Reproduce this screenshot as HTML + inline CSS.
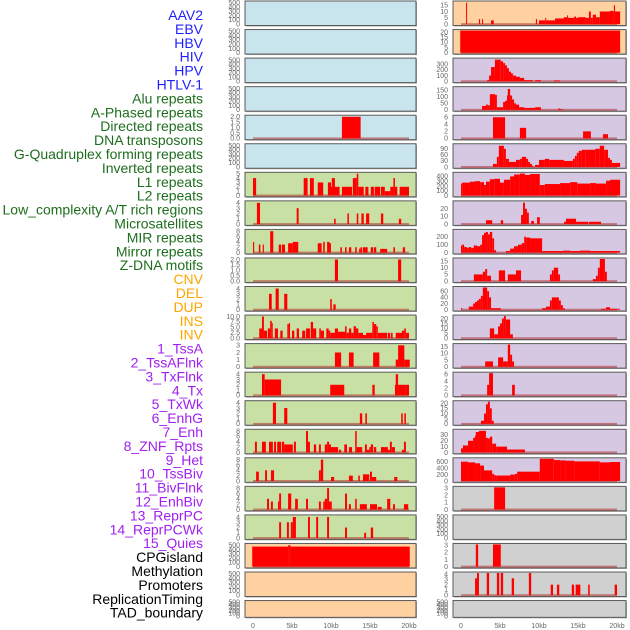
<!DOCTYPE html>
<html><head><meta charset="utf-8"><style>
body{margin:0;background:#fff}
svg{display:block;font-family:"Liberation Sans",sans-serif}
</style></head><body>
<svg id="chart" width="630" height="630" viewBox="0 0 630 630" xmlns="http://www.w3.org/2000/svg"></svg>
<script>
const labels=["AAV2","EBV","HBV","HIV","HPV","HTLV-1","Alu repeats","A-Phased repeats","Directed repeats","DNA transposons","G-Quadruplex forming repeats","Inverted repeats","L1 repeats","L2 repeats","Low_complexity A/T rich regions","Microsatellites","MIR repeats","Mirror repeats","Z-DNA motifs","CNV","DEL","DUP","INS","INV","1_TssA","2_TssAFlnk","3_TxFlnk","4_Tx","5_TxWk","6_EnhG","7_Enh","8_ZNF_Rpts","9_Het","10_TssBiv","11_BivFlnk","12_EnhBiv","13_ReprPC","14_ReprPCWk","15_Quies","CPGisland","Methylation","Promoters","ReplicationTiming","TAD_boundary"];
const labelGroups=[6,13,5,15,5];
const groupColors=["#1f1fff","#1e6e1e","#ffa500","#a020f0","#000000"];
const xTickLabels=["0","5kb","10kb","15kb","20kb"];
const xTickValues=[0,5,10,15,20];
const E=[0,100,200,300,400,500];
const leftColors=["b","b","b","b","b","b","g","g","g","g","g","g","g","g","g","g","g","g","g","o","o","o"];
const rightColors=["o","o","p","p","p","p","p","p","p","p","p","p","p","p","p","p","p","y","y","y","y","y"];
const leftTicks=[E,E,E,E,[0,0.5,1,1.5,2],E,[0,1,2,3,4,5],[0,1,2,3,4],[0,2,4,6,8],[0,0.5,1,1.5,2],[0,1,2,3,4],[0,2.5,5,7.5,10],[0,1,2,3],[0,1,2,3,4],[0,1,2,3,4],[0,2,4,6,8],[0,2,4,6,8],[0,2,4,6,8],[0,1,2,3,4],E,E,E];
const leftMax=[520,520,520,520,2.05,520,5.1,4.2,8.3,2.05,4.2,10.2,3.1,4.2,4.2,8.3,8.3,8.3,4.2,520,520,520];
const rightTicks=[[0,5,10,15],[0,5,10,15,20],[0,100,200,300],[0,50,100,150],[0,2,4,6],[0,30,60,90],[0,100,200,300,400],[0,10,20],[0,100,200],[0,5,10,15],[0,20,40,60],[0,5,10,15,20],[0,5,10,15],[0,2,4,6],[0,5,10,15,20],[0,10,20,30],[0,200,400,600],[0,1,2,3],E,[0,1,2,3],[0,1,2,3,4],E];
const rightMax=[17.5,21.5,390,170,6.3,110,465,29,280,16.5,72,22.5,16.5,6.3,21.5,38,690,3.1,520,3.1,4.2,520];
const leftSeries=[[],[],[],[],[[11.4,13.8,2]],[],
[[0,0.4,4],[6.5,7.0,4],[7.3,7.8,4],[8.3,9.0,3],[9.6,10.0,3],[10.0,11.1,2],[10.1,10.5,4],[11.4,12.7,2],[12.8,13.3,4],[13.3,13.5,5],[13.5,14.2,2],[14.4,14.8,2],[15.1,15.5,2],[15.6,16.3,2],[16.4,16.9,2],[16.9,17.6,1],[17.6,18.0,2],[18.0,18.2,4],[18.2,18.5,2],[18.8,20,2]],
[[0.5,0.9,4],[5.6,5.85,3],[10.4,10.6,1],[12.1,12.3,2],[13.3,13.5,2],[13.9,14.2,2],[14.5,14.9,2],[16.4,16.7,2],[18.7,19.0,1]],
[[0,0.15,4],[0.75,0.95,3],[1.25,1.4,3],[2.2,2.6,8],[3.3,3.6,3],[3.7,4.1,3],[4.5,5.1,3.5],[5.1,5.8,4],[8.3,8.8,3.5],[9.0,9.2,4],[9.5,9.8,4],[9.8,10,3.5],[11.2,11.4,2],[11.8,12.0,2],[12.3,12.6,2],[13.1,13.3,2],[13.6,13.8,1.5],[13.8,14.0,2],[14.1,14.7,2],[15.1,15.4,2],[15.5,15.8,2],[16.3,17.2,1.4],[18.0,18.2,2],[19.2,19.5,2]],
[[10.5,10.9,2],[18.6,19.0,2]],
[[2.05,2.4,3],[2.9,3.3,4],[4.0,4.4,3],[9.9,10.1,2],[10.3,10.6,1]],
[[0.8,1.15,4.5],[1.15,1.4,10],[1.4,1.8,3.5],[1.9,2.2,4.5],[2.2,2.4,8],[2.4,2.5,7],[2.8,3.2,4.5],[3.5,3.8,3.5],[4.4,4.6,6.5],[4.6,4.75,7],[5.0,5.3,3.5],[5.6,5.9,4.5],[6.3,6.7,3.5],[6.8,7.3,4.5],[7.4,7.7,7.5],[7.7,8.1,4.5],[8.5,8.7,4.5],[8.7,9.1,3.5],[9.4,9.7,4.5],[9.7,9.9,3.5],[9.9,10.5,2.5],[10.5,10.9,4.5],[10.9,11.8,3],[11.8,12.0,5.5],[12.0,12.3,2.5],[12.3,12.6,4.5],[12.6,12.9,2.5],[12.9,13.2,5.5],[13.2,13.5,4.5],[13.5,14.1,2.5],[14.1,14.5,1.5],[14.5,15.3,2.5],[15.3,15.5,7.5],[15.5,15.8,6.5],[15.8,16.0,5.5],[16.0,17.2,2.5],[17.3,17.6,2.5],[17.7,17.9,2.5],[18.3,19.1,2.5],[19.1,19.4,3.5],[19.4,19.6,4.5],[19.6,20,2.5]],
[[10.5,11.3,2],[12.3,12.9,2],[15.4,16.2,2],[18.3,18.6,1],[18.6,19.4,3],[19.4,20.1,1]],
[[1.15,1.5,4],[1.5,3.6,3],[9.9,11.7,2],[15.3,15.6,2],[18.2,18.6,2],[18.3,18.6,4],[18.6,19.6,2],[19.6,20,2]],
[[2.55,2.95,4],[4.0,4.4,3],[13.7,14.0,2],[14.4,14.6,2],[19.0,19.2,2],[19.4,19.6,2]],
[[0.25,0.5,4],[1.15,1.65,4],[2.05,2.55,4],[2.7,2.95,4],[3.1,3.6,4],[3.7,4.0,4],[4.0,5.1,3],[5.25,5.5,4],[6.8,7.05,8],[7.05,7.3,4],[7.8,8.1,3],[8.45,8.7,3],[9.2,9.5,3],[9.5,9.75,4],[9.75,10,3],[10,10.9,2],[11.0,11.3,1],[11.7,12.05,3],[12.3,12.7,2],[13.1,13.3,8],[13.3,14.0,2],[14.35,14.6,3],[14.6,14.9,1],[14.9,15.1,2],[15.1,15.4,3],[15.5,15.8,2],[16.4,17.3,2],[17.3,17.55,1],[17.55,17.8,4],[17.8,18.2,2],[19.1,19.35,1],[19.35,19.6,4]],
[[0.4,0.75,3.5],[1.55,1.8,4],[2.3,2.7,4],[8.45,8.7,4],[8.7,9.0,8],[10,10.4,1.5],[12.3,12.8,2],[13.5,13.7,2],[14.1,14.9,2.5],[15,15.25,3.5],[15.25,15.8,1.5],[18.1,18.5,1.5]],
[[1.8,2.05,4],[2.3,2.55,3],[3.2,3.35,3],[3.35,3.6,6],[4.5,4.9,6],[5.4,5.75,4],[6.8,7.05,4],[8.45,8.7,3],[9,9.2,3],[9.2,9.5,4],[9.5,9.75,8],[9.75,10.1,3],[11.8,12.05,6],[12.3,12.55,2],[13.1,13.3,4],[13.7,14.6,2],[15,15.9,2],[16,16.5,1],[17.2,17.6,4],[17.95,18.2,2],[19.35,19.9,2]],
[[3.35,3.6,3],[4.35,4.6,3],[4.85,5.1,3],[5.1,5.5,4],[7.05,7.3,4],[8.1,8.35,4],[9.5,9.75,4],[11.8,12.05,2],[14.25,14.5,1],[15.1,15.4,2]],
[[-0.1,4.5,470],[4.5,4.8,500],[4.8,20.1,470]],[],[]];
const rightSeries=[
[[0.65,0.75,17],[2.3,2.45,4],[2.7,2.8,4],[3.85,4.2,3],[9.6,9.75,4],[10,10.8,3],[10.8,10.9,5],[10.9,12.05,3],[12.05,13.2,4.5],[13.2,13.6,5.5],[13.6,13.7,7],[13.7,14.5,5],[14.5,14.75,6],[14.75,15,5],[15,16,5.5],[16,16.4,5],[16.4,16.65,10],[16.65,16.9,5],[16.9,17.3,7.5],[17.3,17.8,5.5],[17.8,19.1,10],[19.1,19.5,10.5],[19.5,19.6,10],[19.6,19.75,15],[19.75,20.4,10]],
[[-0.1,20.4,21.5]],
[[3.35,3.6,20],[3.6,3.85,100],[3.85,4.35,250],[4.35,5.1,380],[5.1,5.4,350],[5.4,5.65,320],[5.65,5.9,280],[5.9,6.15,230],[6.15,6.4,170],[6.4,6.65,140],[6.65,7.05,100],[7.05,7.55,80],[7.55,8.1,60],[8.1,9.2,20],[9.5,10.25,20],[11.9,12.7,15]],
[[2.7,3.2,30],[3.2,3.45,40],[3.45,3.7,35],[3.7,4.35,120],[4.35,4.6,115],[4.6,5.4,20],[5.4,5.65,60],[5.65,5.9,70],[5.9,6.0,110],[6.0,6.3,160],[6.3,6.55,110],[6.55,6.8,80],[6.8,7.05,50],[7.05,7.45,40],[7.45,8.1,20],[8.1,9.5,15],[9.5,10.25,20],[12.45,12.7,10],[12.7,13.1,5]],
[[4.1,5.65,6],[7.55,8.35,3],[15.65,16.65,2],[18.2,18.85,1.2]],
[[4.1,4.6,15],[4.6,4.85,50],[4.85,5.5,105],[5.5,5.75,90],[5.75,6.15,40],[6.15,7.05,25],[7.05,7.55,35],[7.55,7.8,40],[7.8,8.35,50],[8.35,8.6,40],[8.6,8.85,25],[8.85,9.1,15],[9.1,9.25,5],[9.5,10,10],[10,10.75,35],[10.75,11.3,40],[11.3,13.2,35],[13.2,14.35,30],[14.35,14.6,40],[14.6,14.85,55],[14.85,15.1,70],[15.1,15.5,80],[15.5,16,85],[16,17.2,85],[17.2,17.8,90],[17.8,18.35,105],[18.35,18.85,85],[18.85,19.1,45],[19.1,19.35,35],[19.35,20.4,20]],
[[0,0.15,250],[0.15,1.15,270],[1.15,1.8,290],[1.8,2.45,300],[2.45,2.95,280],[2.95,3.2,220],[3.2,3.7,290],[3.7,4.25,340],[4.25,5.0,350],[5,5.5,270],[5.5,6.3,330],[6.3,6.8,400],[6.8,7.55,440],[7.55,8.2,460],[8.2,8.85,430],[8.85,10.1,450],[10.1,10.75,220],[10.75,12.7,240],[12.7,14,260],[14,14.9,280],[14.9,16.55,250],[16.55,17.3,260],[17.3,18.6,250],[18.6,19.1,310],[19.1,20.4,330]],
[[3.2,4.0,5],[5.1,5.4,5],[7.7,7.95,12],[7.95,8.2,28],[8.2,8.45,20],[8.45,8.7,15],[9,9.35,4],[9.75,10.1,9],[13.2,13.45,3],[13.45,14.75,7],[14.75,16.3,3],[16.4,17.95,3]],
[[0,0.15,90],[0.15,0.4,100],[0.4,0.75,70],[0.75,1.0,60],[1.0,1.3,70],[1.3,1.65,60],[1.65,2.05,90],[2.05,2.45,80],[2.45,2.7,100],[2.7,2.95,220],[2.95,3.2,250],[3.2,3.45,260],[3.45,3.7,230],[3.7,4.0,260],[4.0,4.25,180],[4.25,4.5,30],[5.75,6.3,20],[6.3,6.8,50],[6.8,7.3,80],[7.3,7.8,100],[7.8,8.1,120],[8.1,8.35,200],[8.35,8.85,190],[8.85,10.4,180],[10.4,13.1,20],[13.1,14,25],[14,15.25,20],[15.25,16.55,25],[16.55,20.4,20]],
[[1.65,2.8,5],[2.8,3.1,7],[3.1,3.35,9],[3.35,3.85,4],[4.85,5.65,8],[6.0,7.05,5],[7.05,7.7,8],[11.4,11.65,5],[11.65,11.9,8],[11.9,12.45,10],[12.45,12.7,5],[16.9,17.3,1.5],[17.3,17.55,4],[17.55,17.8,10],[17.8,18.45,16.5],[18.45,18.7,7]],
[[0,0.15,5],[1.0,1.55,10],[1.55,1.8,20],[1.8,2.05,25],[2.05,2.3,30],[2.3,2.55,35],[2.55,2.8,45],[2.8,3.35,72],[3.35,3.6,60],[3.6,3.85,40],[3.85,5.1,5],[10.4,10.9,5],[10.9,11.4,10],[11.4,11.65,30],[11.65,12.55,40],[12.55,12.8,30],[12.8,13.05,15],[13.05,13.3,5],[17.95,18.6,3],[18.6,19.1,8],[19.1,20.4,3]],
[[3.7,4.25,10],[4.25,4.75,4],[4.75,5.0,12],[5.0,5.25,15],[5.25,5.5,20],[5.5,5.75,22.5],[5.75,6.3,19],[6.3,6.65,4]],
[[3.1,4.1,4],[4.75,5.4,7],[5.4,6.0,4],[6.0,6.3,16.5],[6.3,6.55,9],[6.55,6.8,4]],
[[3.35,3.6,3],[3.6,4.1,6.3],[6.55,6.9,3]],
[[2.55,2.95,3],[2.95,3.2,10],[3.2,3.45,19],[3.45,3.7,21.5],[3.7,3.95,15],[3.95,4.2,3]],
[[0,0.25,7],[0.25,0.9,12],[0.9,1.55,20],[1.55,1.8,25],[1.8,1.9,29],[1.9,2.3,35],[2.3,3.2,37],[3.2,3.45,25],[3.45,3.7,24],[3.7,4.0,27],[4.0,4.5,15],[4.5,5.9,10],[5.9,8.2,5]],
[[0,0.9,600],[0.9,1.8,580],[1.8,2.45,550],[2.45,2.95,480],[2.95,4.0,330],[4.0,4.25,220],[4.25,4.5,180],[4.5,6.3,170],[6.3,6.9,200],[6.9,7.2,220],[7.2,10.1,290],[10.1,11.9,690],[11.9,12.7,650],[12.7,13.45,640],[13.45,14.5,630],[14.5,17.8,610],[17.8,19.1,580],[19.1,20.4,590]],
[[4.25,5.65,3.1]],[],
[[1.9,2.2,3.1],[4.1,5.1,3.1]],
[[1.8,2.05,3.2],[2.05,2.3,4.2],[3.3,3.6,4.2],[4.6,4.9,4.2],[5.1,5.4,4.2],[6.5,6.8,3.2],[8.7,9.0,4.2],[11.5,11.8,2],[12.3,12.6,2],[14.2,14.5,2],[14.7,15.3,2],[16.3,16.5,2],[19.7,20,2]],[]];

const NS="http://www.w3.org/2000/svg";
const svg=document.getElementById("chart");
const bg={b:"#c8e4ec",g:"#c8e0a4",o:"#ffd1a0",p:"#d6c7e3",y:"#d0d0d0"};
function mk(t,a,p){const e=document.createElementNS(NS,t);for(const k in a)e.setAttribute(k,a[k]);(p||svg).appendChild(e);return e;}
function panelTop(i){return 1+i*28.55;}
function panelH(i){return i===21?16.8:24.5;}
let gi=0,cnt=0;
labels.forEach((l,i)=>{
  while(cnt>=labelGroups[gi]){cnt-=labelGroups[gi];gi++;}
  cnt++;
  const t=mk("text",{x:203,y:15+i*13.9,"text-anchor":"end","dominant-baseline":"central","font-size":"14",fill:groupColors[gi]});
  
  
  t.textContent=l;
});
function drawCol(x0,x1,zeroX,series,ticks,maxes,colors,side){
  const kx=v=>zeroX+v*7.8;
  for(let i=0;i<22;i++){
    const top=panelTop(i),h=panelH(i);
    const g=mk("g",{});
    
    
    const r=mk("rect",{x:x0+1,y:top+1,width:x1-x0,height:h,fill:"#aaa"},g);
    
    
    const bgR=mk("rect",{x:x0,y:top,width:x1-x0,height:h,fill:bg[colors[i]],stroke:"#5a5a5a","stroke-width":"1"},g);
    
    
    const y0=top+h-1.3,yTop=top+1;
    const ky=v=>y0-(v/maxes[i])*(y0-yTop);
    const segs=series[i];
    if(segs.length){
      const bl=mk("rect",{x:kx(0),y:y0-1,width:kx(20)-kx(0),height:2,fill:"#b03030",opacity:"0.55"},g);
      
      
    }
    segs.forEach(s=>{
      const b=mk("rect",{x:kx(s[0]),y:ky(s[2]),width:Math.max(1,kx(s[1])-kx(s[0])),height:y0-ky(s[2]),fill:"#ff0000"},g);
      
      
    });
    const frac=ticks[i].some(q=>q%1);
    ticks[i].forEach(v=>{
      const t=mk("text",{x:x0-5,y:ky(v)+2.3,"text-anchor":"end","font-size":"7",fill:"#666"},g);
      
      
      t.textContent=frac?v.toFixed(1):String(v);
    });
  }
  xTickValues.forEach((v,j)=>{
    const t=mk("text",{x:kx(v),y:628,"text-anchor":"middle","font-size":"7",fill:"#666"});
    
    
    t.textContent=xTickLabels[j];
  });
}
drawCol(245,416,253,leftSeries,leftTicks,leftMax,leftColors,"left");
drawCol(453,626,461,rightSeries,rightTicks,rightMax,rightColors,"right");
</script>
</body></html>
